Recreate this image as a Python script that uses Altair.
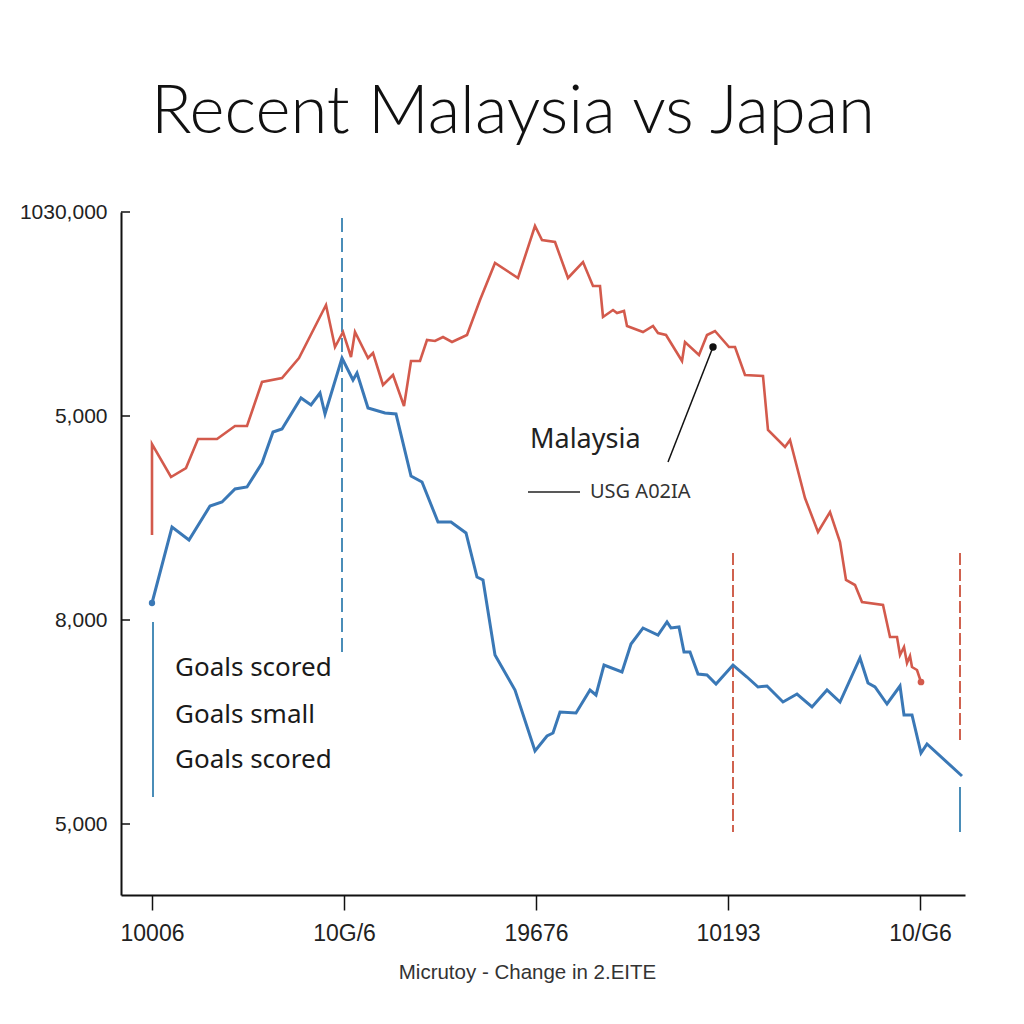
import altair as alt
import pandas as pd

TITLE = "Recent Malaysia vs Japan"
X_TITLE = "Micrutoy - Change in 2.EITE"

x_tick_values = [0, 48, 96, 144, 192]
x_tick_labels = ["10006", "10G/6", "19676", "10193", "10/G6"]
y_tick_values = [0, 51, 102, 153]
y_tick_labels = ["5,000", "8,000", "5,000", "1030,000"]

red_x = [0, 0, 4.75, 8.5, 11.5, 16.25, 20.75, 23.75, 27.5, 32.5, 36.75, 43.5, 45.75, 47.75,
         49.75, 50.75, 54, 55.25, 57.75, 60.25, 63, 64.75, 67, 68.75, 70.75, 72.75, 75, 78.75,
         82, 85.75, 91.5, 95.75, 97.5, 100.75, 104, 107.75, 110.25, 112, 112.75, 115.25, 116.25,
         118, 118.75, 122.75, 125.25, 126.5, 128.5, 132.5, 133.25, 136.75, 138.75, 140.75,
         144.25, 145.75, 148.25, 152.75, 154, 158.25, 159.5, 163.25, 166.5, 169.5, 172, 173.5,
         175.75, 177.5, 182.75, 184.5, 186.25, 187, 188, 188.75, 189.5, 190, 191.25, 192.25]
red_y = [72.25, 95, 86.75, 89, 96.25, 96.25, 99.5, 99.5, 110.5, 111.5, 116.5, 129.75, 119.25, 123,
         116.75, 123, 116.5, 117.75, 109.75, 112.25, 104.5, 115.75, 115.75, 121, 120.75, 121.75,
         120.5, 122.25, 131, 140.25, 136.5, 149.5, 146, 145.5, 136.5, 140.5, 134.5, 134.5, 126.75,
         128.5, 127.75, 128.25, 124.5, 123, 124.5, 122.75, 122.25, 115.75, 120.5, 117.25, 122.25,
         123.25, 119.25, 119.25, 112.25, 112, 98.5, 94.25, 96, 81.5, 73, 78, 70.5, 61, 59.75, 55.5,
         54.75, 46.75, 46.75, 42.25, 44.25, 40.25, 42, 39.25, 38.5, 35.5]

blue_x = [0, 5, 9.25, 14.5, 17.5, 20.75, 23.75, 27.5, 30.25, 32.5, 37.25, 39.75, 42, 43.25, 47.5,
          50.25, 51.25, 54, 58.25, 61, 64.75, 67.5, 71.5, 74.75, 78.5, 81.25, 82.75, 85.75, 90.75,
          95.75, 98.75, 100.25, 102, 106, 109.5, 111, 113, 117.5, 119.75, 122.75, 126.5, 128.75,
          129.75, 131.75, 133, 134.5, 136.5, 138.75, 141, 145.25, 148.75, 151.5, 153.75, 157.75,
          161.25, 165, 168.75, 172, 177, 179, 180.75, 183.75, 187, 188, 190, 192.25, 193.75, 202.5]
blue_y = [55.25, 74.25, 71, 79.5, 80.5, 83.75, 84.25, 90.25, 98, 98.75, 106.5, 104.75, 107.75, 102.5,
          116.5, 111, 112.75, 104, 102.75, 102.5, 87, 85.5, 75.5, 75.5, 72.75, 61.75, 61, 42.25, 33.5,
          18.25, 22, 22.75, 28, 27.75, 33.5, 32.25, 39.75, 38, 45, 49, 47.25, 50.5, 49, 49.25, 43, 43,
          37.5, 37.25, 35, 39.75, 36.75, 34.25, 34.5, 30.5, 32.5, 29.25, 33.5, 30.5, 41.5, 35.25,
          34.25, 30, 34.5, 27.25, 27.25, 17.75, 20, 12]

# vertical marker segments
blue_dash_x = [47.5]
blue_dash_y1 = [151.5]
blue_dash_y2 = [43]
blue_solid_x = [0.25, 202]
blue_solid_y1 = [50.5, 9.25]
blue_solid_y2 = [6.75, -2]
red_dash_x = [145.25, 202]
red_dash_y1 = [67.75, 67.75]
red_dash_y2 = [-2, 21]

# annotations
note_label = "Malaysia"
note_xy = (94.5, 96)
pointer_from = (140.25, 119.25)
pointer_to = (129, 90.5)
key_label = "USG A02IA"
key_line_x = (94, 107)
key_y = 83
key_text_x = 109.5
legend_labels = ["Goals scored", "Goals small", "Goals scored"]
legend_y = [39, 27.25, 16]
legend_x = 5.75

X_DOMAIN = [-7.75, 203.25]
Y_DOMAIN = [-17.75, 153]

RED = "#d35a4c"
BLUE = "#3a78b6"
BLUE_RULE = "#4a8db8"
RED_RULE = "#d0624f"


def label_expr(vals, labels):
    expr = "''"
    for v, l in reversed(list(zip(vals, labels))):
        expr = f"datum.value == {v} ? '{l}' : ({expr})"
    return expr


x_axis = alt.Axis(values=x_tick_values, labelExpr=label_expr(x_tick_values, x_tick_labels),
                  title=X_TITLE, grid=False, domainColor="#111", domainWidth=2,
                  tickColor="#111", tickSize=15, tickWidth=1.5,
                  labelFont="Liberation Sans", labelFontSize=23, labelColor="#222", labelPadding=12,
                  titleFont="Liberation Sans", titleFontSize=20.5, titleFontWeight="normal",
                  titleColor="#333", titleX=406, titleY=77, titleBaseline="middle", titleAlign="center")
y_axis = alt.Axis(values=y_tick_values, labelExpr=label_expr(y_tick_values, y_tick_labels),
                  title=None, grid=False, ticks=False, tickSize=0, domainColor="#111", domainWidth=2,
                  labelFont="Liberation Sans", labelFontSize=21, labelColor="#222", labelPadding=14)

xs = alt.Scale(domain=X_DOMAIN, nice=False, zero=False)
ys = alt.Scale(domain=Y_DOMAIN, nice=False, zero=False)


def X(f="x"):
    return alt.X(f"{f}:Q", scale=xs, axis=x_axis)


def Y(f="y"):
    return alt.Y(f"{f}:Q", scale=ys, axis=y_axis)


red_df = pd.DataFrame({"x": red_x, "y": red_y, "i": range(len(red_x))})
blue_df = pd.DataFrame({"x": blue_x, "y": blue_y, "i": range(len(blue_x))})

red_line = alt.Chart(red_df).mark_line(color=RED, strokeWidth=2.6, strokeJoin="miter").encode(
    x=X(), y=Y(), order="i:Q")
blue_line = alt.Chart(blue_df).mark_line(color=BLUE, strokeWidth=3, strokeJoin="miter").encode(
    x=X(), y=Y(), order="i:Q")

red_dot = alt.Chart(red_df.tail(1)).mark_point(filled=True, color=RED, size=45, opacity=1).encode(x=X(), y=Y())
blue_dot = alt.Chart(blue_df.head(1)).mark_point(filled=True, color=BLUE, size=40, opacity=1).encode(x=X(), y=Y())

bd = pd.DataFrame({"x": blue_dash_x, "y1": blue_dash_y1, "y2": blue_dash_y2})
bs = pd.DataFrame({"x": blue_solid_x, "y1": blue_solid_y1, "y2": blue_solid_y2})
rd = pd.DataFrame({"x": red_dash_x, "y1": red_dash_y1, "y2": red_dash_y2})

blue_dash = alt.Chart(bd).mark_rule(color=BLUE_RULE, strokeWidth=2, strokeDash=[14, 6]).encode(
    x=X(), y=Y("y1"), y2="y2:Q")
blue_solid = alt.Chart(bs).mark_rule(color=BLUE_RULE, strokeWidth=2).encode(
    x=X(), y=Y("y1"), y2="y2:Q")
red_dash = alt.Chart(rd).mark_rule(color=RED_RULE, strokeWidth=2, strokeDash=[12, 4]).encode(
    x=X(), y=Y("y1"), y2="y2:Q")

ytick_df = pd.DataFrame({"y": y_tick_values})
yticks = alt.Chart(ytick_df).mark_rule(color="#111", strokeWidth=1.5).encode(
    y=Y(), x=alt.value(0), x2=alt.value(9))

ptr_df = pd.DataFrame({"x": [pointer_from[0]], "y": [pointer_from[1]],
                       "x2": [pointer_to[0]], "y2": [pointer_to[1]]})
pointer = alt.Chart(ptr_df).mark_rule(color="#111", strokeWidth=1.5).encode(
    x=X(), y=Y(), x2="x2:Q", y2="y2:Q")
pointer_dot = alt.Chart(ptr_df).mark_point(filled=True, color="#111", size=55, opacity=1).encode(x=X(), y=Y())

note_df = pd.DataFrame({"x": [note_xy[0]], "y": [note_xy[1]], "t": [note_label]})
note = alt.Chart(note_df).mark_text(font="Noto Sans", fontSize=27, align="left", baseline="middle",
                                    color="#222").encode(x=X(), y=Y(), text="t:N")

key_df = pd.DataFrame({"x": [key_line_x[0]], "x2": [key_line_x[1]], "y": [key_y],
                       "tx": [key_text_x], "t": [key_label]})
key_line = alt.Chart(key_df).mark_rule(color="#222", strokeWidth=1.5).encode(x=X(), x2="x2:Q", y=Y())
key_text = alt.Chart(key_df).mark_text(font="Noto Sans", fontSize=20, align="left", baseline="middle",
                                       color="#333").encode(x=X("tx"), y=Y(), text="t:N")

leg_df = pd.DataFrame({"x": [legend_x] * len(legend_labels), "y": legend_y, "t": legend_labels})
legend = alt.Chart(leg_df).mark_text(font="Noto Sans", fontSize=26, align="left", baseline="middle",
                                     color="#1a1a1a").encode(x=X(), y=Y(), text="t:N")

title_df = pd.DataFrame({"t": [TITLE]})
title = alt.Chart(title_df).mark_text(font="Lato", fontSize=67, fontWeight=300, align="center",
                                      baseline="alphabetic", color="#111").encode(
    x=alt.value(392), y=alt.value(-79), text="t:N")

chart = alt.layer(
    blue_dash, blue_solid, red_dash, red_line, blue_line, red_dot, blue_dot,
    pointer, pointer_dot, note, key_line, key_text, legend, yticks, title
).properties(
    width=844, height=683,
    autosize=alt.AutoSizeParams(type="none"),
    padding={"left": 113, "top": 204, "right": 51, "bottom": 121},
    background="white",
).configure_view(stroke=None)

chart.save("out.html", embed_options={"renderer": "svg", "actions": False})
